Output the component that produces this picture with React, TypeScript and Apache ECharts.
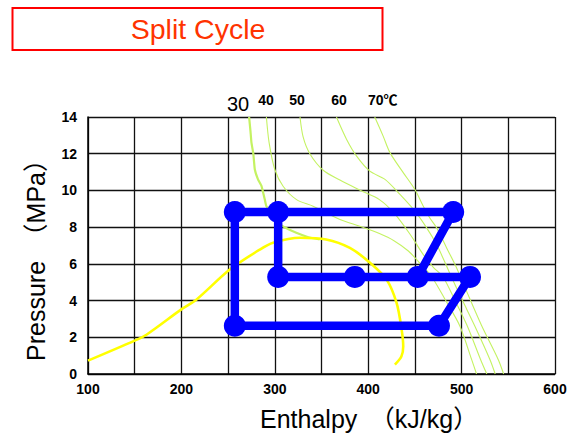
import React, { useEffect, useRef } from "react";
import * as echarts from "echarts";

// Refrigerant state points of the split cycle (enthalpy kJ/kg, pressure MPa)
const stateH = [257.2, 303.6, 491, 303.6, 385.7, 453, 509, 257.2, 475.8];
const stateP = [8.82, 8.82, 8.82, 5.29, 5.29, 5.29, 5.29, 2.63, 2.63];
// order in which the state points are connected
const cyclePath = [1, 0, 7, 8, 6, 5, 2, 1, 3, 4, 5];

// saturation dome
const domeH = [100, 150, 162.6, 201, 216, 251.8, 284, 298.2, 327, 355, 380.4, 401.9, 419.7, 430.4, 435.8, 437.5, 435.5, 428.6];
const domeP = [0.73, 1.82, 2.14, 3.56, 4.05, 5.69, 6.78, 7.15, 7.42, 7.33, 6.87, 6.06, 5.14, 3.87, 2.42, 1.5, 0.95, 0.51];

// isotherms
const iso30H = [272.5, 274, 275, 277, 278.6, 282, 285.8, 289.3, 291, 306, 311, 323, 336, 348];
const iso30P = [14, 13.2, 12.6, 12.0, 11.14, 10.6, 10.23, 9.5, 9.14, 8.15, 7.98, 7.69, 7.45, 7.33];
const iso40H = [291, 293.9, 300, 308.9, 323.3, 341, 369.7, 391, 412, 428, 443, 456, 468, 483, 498, 510.8, 516];
const iso40P = [14, 12.6, 11.14, 10.23, 9.5, 9.14, 8.42, 8.05, 7.65, 7.25, 6.7, 6.0, 5.3, 4.0, 2.63, 0.78, 0];
const iso50H = [327, 330.4, 337.5, 351.8, 369.7, 392, 412, 428, 445, 459, 470, 480, 493, 506, 520.4, 527];
const iso50P = [14, 12.9, 12.0, 11.1, 10.57, 10.0, 9.5, 8.75, 7.6, 6.5, 5.8, 5.3, 4.0, 2.63, 0.78, 0];
const iso60H = [366, 376.9, 387.6, 401.8, 418, 434, 450, 462.6, 473.3, 482, 489, 501, 514, 530.4, 536];
const iso60P = [14, 12.78, 11.87, 11.05, 10.6, 9.78, 8.87, 7.96, 7.05, 6.1, 5.3, 4.0, 2.63, 0.78, 0];
const iso70H = [407, 416, 423.3, 437.5, 450, 459, 466, 473.3, 484, 494.7, 505.4, 521.5, 539.3, 545];
const iso70P = [14, 12.96, 12.06, 10.97, 10.05, 9.14, 8.5, 7.96, 6.87, 5.78, 4.5, 2.63, 0.78, 0];

const isoLabels = ["30", "40", "50", "60", "70℃"];
const titleText = "Split Cycle";
const xName = "Enthalpy\u3000（kJ/kg）";
const yName = "Pressure\u3000（MPa）";

const FONT = '"Liberation Sans", Arial, "Noto Sans CJK JP", sans-serif';

const zip = (h: number[], p: number[]) => h.map((v, i) => [v, p[i]]);

export default function App() {
  const ref = useRef<HTMLDivElement>(null);
  useEffect(() => {
    if (!ref.current) return;
    const chart = echarts.init(ref.current, null, { renderer: "svg" });
    const isoStyle = (w: number) => ({
      type: "line" as const,
      showSymbol: false,
      smooth: 0.3,
      lineStyle: { color: "#c4f262", width: w },
      z: 2,
      silent: true,
    });
    const option: any = {
      animation: false,
      backgroundColor: "#ffffff",
      grid: { left: 88, top: 117, width: 467, height: 257 },
      xAxis: {
        type: "value",
        min: 100,
        max: 600,
        interval: 50,
        axisLine: { lineStyle: { color: "#000", width: 1.5 } },
        axisTick: { show: false },
        splitLine: { lineStyle: { color: "#111", width: 1.3 } },
        axisLabel: {
          margin: 8,
          color: "#000",
          fontSize: 14,
          fontWeight: "bold",
          fontFamily: FONT,
          showMinLabel: true,
          showMaxLabel: true,
          formatter: (v: number) => (v % 100 === 0 ? String(v) : ""),
        },
      },
      yAxis: {
        type: "value",
        min: 0,
        max: 14,
        interval: 2,
        axisLine: { show: true, lineStyle: { color: "#000", width: 1.5 } },
        axisTick: { show: false },
        splitLine: { lineStyle: { color: "#111", width: 1.3 } },
        axisLabel: {
          margin: 11,
          color: "#000",
          fontSize: 14,
          fontWeight: "bold",
          fontFamily: FONT,
        },
      },
      series: [
        { ...isoStyle(2.2), data: zip(iso30H, iso30P), smooth: 0.1 },
        { ...isoStyle(1.1), data: zip(iso40H, iso40P) },
        { ...isoStyle(1.1), data: zip(iso50H, iso50P) },
        { ...isoStyle(1.1), data: zip(iso60H, iso60P) },
        { ...isoStyle(1.1), data: zip(iso70H, iso70P) },
        {
          type: "line",
          showSymbol: false,
          smooth: 0.3,
          data: zip(domeH, domeP),
          lineStyle: { color: "#ffff00", width: 2.6 },
          z: 3,
          silent: true,
        },
        {
          type: "line",
          showSymbol: false,
          data: cyclePath.map((i) => [stateH[i], stateP[i]]),
          lineStyle: { color: "#0000ff", width: 8.5, join: "round" },
          z: 5,
          silent: true,
        },
        {
          type: "scatter",
          data: zip(stateH, stateP),
          symbol: "circle",
          symbolSize: 22,
          itemStyle: { color: "#0000ff", opacity: 1 },
          z: 6,
          silent: true,
        },
      ],
      graphic: [
        {
          type: "rect",
          shape: { x: 12.5, y: 8, width: 370, height: 42 },
          style: { fill: "#fff", stroke: "#ff0000", lineWidth: 2 },
        },
        {
          type: "text",
          x: 198,
          y: 29,
          style: {
            text: titleText,
            font: `28.5px ${FONT}`,
            fill: "#ff3300",
            textAlign: "center",
            textVerticalAlign: "middle",
          },
        },
        {
          type: "text",
          x: 238,
          y: 104,
          style: { text: isoLabels[0], font: `20px ${FONT}`, fill: "#000", textAlign: "center", textVerticalAlign: "middle" },
        },
        {
          type: "text",
          x: 266,
          y: 100,
          style: { text: isoLabels[1], font: `bold 14px ${FONT}`, fill: "#000", textAlign: "center", textVerticalAlign: "middle" },
        },
        {
          type: "text",
          x: 297,
          y: 100,
          style: { text: isoLabels[2], font: `bold 14px ${FONT}`, fill: "#000", textAlign: "center", textVerticalAlign: "middle" },
        },
        {
          type: "text",
          x: 339,
          y: 100,
          style: { text: isoLabels[3], font: `bold 14px ${FONT}`, fill: "#000", textAlign: "center", textVerticalAlign: "middle" },
        },
        {
          type: "text",
          x: 368,
          y: 100,
          style: { text: isoLabels[4], font: `bold 14px ${FONT}`, fill: "#000", textAlign: "left", textVerticalAlign: "middle" },
        },
        {
          type: "text",
          x: 260,
          y: 419,
          style: { text: xName, font: `25px ${FONT}`, fill: "#000", textAlign: "left", textVerticalAlign: "middle" },
        },
        {
          type: "text",
          x: 36,
          y: 254,
          rotation: Math.PI / 2,
          style: { text: yName, font: `25px ${FONT}`, fill: "#000", textAlign: "center", textVerticalAlign: "middle" },
        },
      ],
    };
    chart.setOption(option);
    return () => chart.dispose();
  }, []);
  return (
    <div
      ref={ref}
      style={{ position: "fixed", left: 0, top: 0, width: 577, height: 447 }}
    />
  );
}
